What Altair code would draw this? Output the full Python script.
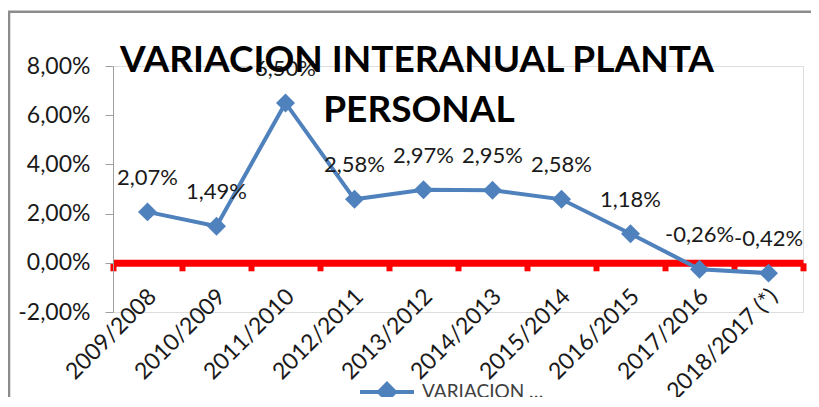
import altair as alt
import pandas as pd

categories = ["2009/2008", "2010/2009", "2011/2010", "2012/2011", "2013/2012",
              "2014/2013", "2015/2014", "2016/2015", "2017/2016", "2018/2017 (*)"]
values = [2.07, 1.49, 6.50, 2.58, 2.97, 2.95, 2.58, 1.18, -0.26, -0.42]
series_name = "VARIACION INTERANUAL PLANTA PERSONAL"
title_lines = ["VARIACION INTERANUAL PLANTA", "PERSONAL"]
y_ticks = [-2, 0, 2, 4, 6, 8]
footnote = "(*)2018/2017 información provisoria"

labels = [f"{v:.2f}%".replace(".", ",") for v in values]
df = pd.DataFrame({"cat": categories, "val": values, "lab": labels, "serie": series_name})

W, H = 690, 246
BLUE = "#4F81BD"
FONT = "Lato"
TXT = "#1a1a1a"

x_enc = alt.X("cat:N", sort=None, title=None, bandPosition=0.5,
              scale=alt.Scale(type="band", paddingInner=0, paddingOuter=0),
              axis=alt.Axis(labelAngle=-45, labelFontSize=23, labelFont=FONT,
                            labelColor=TXT, domainColor="#FF0000", domainWidth=7,
                            tickColor="#FF0000", tickWidth=6, tickSize=8, tickBand="extent",
                            offset=-H * 2 / 10, labelPadding=14, labelLimit=300,
                            labelOffset=-3))
y_enc = alt.Y("val:Q", title=None,
              scale=alt.Scale(domain=[-2, 8], nice=False, zero=False),
              axis=alt.Axis(values=y_ticks, labelFontSize=23, labelFont=FONT,
                            labelColor=TXT, domainColor="#A0A0A0", tickColor="#A0A0A0",
                            tickSize=8, labelPadding=15, grid=False,
                            labelExpr="replace(replace(format(datum.value, '.2f'), '.', ','), '\u2212', '-') + '%'"))

legend_shape = "M-1,0H1M0,-0.3L0.3,0L0,0.3L-0.3,0Z"

line = alt.Chart(df).mark_line(strokeWidth=4, color=BLUE).encode(
    x=x_enc, y=y_enc,
    color=alt.Color("serie:N", scale=alt.Scale(range=[BLUE]),
                    legend=alt.Legend(title=None, orient="none", legendX=245, legendY=297,
                                      symbolType=legend_shape, symbolSize=2916,
                                      symbolStrokeWidth=4, symbolStrokeColor=BLUE,
                                      symbolFillColor=BLUE, labelLimit=125,
                                      labelFontSize=19, labelFont=FONT, labelColor="#404040",
                                      labelOffset=6)))

pts = alt.Chart(df).mark_point(shape="diamond", size=360, filled=True, color=BLUE,
                               opacity=1).encode(x=x_enc, y=y_enc)

txt = alt.Chart(df).mark_text(fontSize=22, font=FONT, color=TXT,
                              baseline="alphabetic", dy=-27).encode(
    x=x_enc, y=y_enc, text="lab:N")

t1 = alt.Chart(pd.DataFrame({"t": [title_lines[0]]})).mark_text(
    fontSize=37, font=FONT, fontWeight="bold", color="#000000",
    align="center", baseline="alphabetic").encode(
    x=alt.value(304), y=alt.value(6), text="t:N")
t2 = alt.Chart(pd.DataFrame({"t": [title_lines[1]]})).mark_text(
    fontSize=37, font=FONT, fontWeight="bold", color="#000000",
    align="center", baseline="alphabetic").encode(
    x=alt.value(306), y=alt.value(56), text="t:N")

foot = alt.Chart(pd.DataFrame({"t": [footnote]})).mark_text(
    fontSize=22, font=FONT, color=TXT, align="left", baseline="top").encode(
    x=alt.value(-33), y=alt.value(336), text="t:N")

frame_top = alt.Chart(pd.DataFrame({"a": [0]})).mark_rect(
    color="#8C8C8C", opacity=1).encode(
    x=alt.value(-105), x2=alt.value(720), y=alt.value(-55.5), y2=alt.value(-53))
frame_left = alt.Chart(pd.DataFrame({"a": [0]})).mark_rule(
    stroke="#8C8C8C", strokeWidth=2.5).encode(
    x=alt.value(-104), y=alt.value(-55), y2=alt.value(400))

chart = alt.layer(frame_top, frame_left, line, pts, txt, t1, t2, foot).properties(
    width=W, height=H,
    autosize=alt.AutoSizeParams(type="none"),
    padding={"left": 105, "top": 58, "right": 8, "bottom": 85},
).configure_view(stroke=None).configure(background="white")

chart.save("out.html", embed_options={"renderer": "svg", "actions": False})
